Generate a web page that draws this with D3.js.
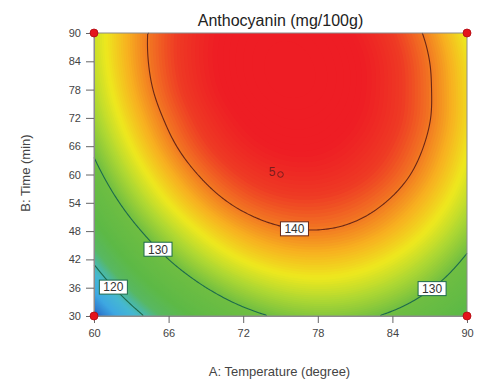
<!DOCTYPE html>
<html>
<head>
<meta charset="utf-8">
<script src="https://cdn.jsdelivr.net/npm/d3@7"></script>
<style>
  body { margin: 0; background: #fff; }
  svg { display: block; font-family: Arial, "Liberation Sans", sans-serif; }
</style>
</head>
<body>
<div id="chart"></div>
<script>
// DATA
// A: temperature (columns), B: time (rows)
const temperature = [60, 66, 72, 78, 84, 90];
const time = [30, 36, 42, 48, 54, 60, 66, 72, 78, 84, 90];
// predicted anthocyanin (mg/100g), one row per time, one column per temperature
const anthocyanin = [
  [113.1, 122.8, 128.8, 131.0, 129.4, 123.9],
  [117.1, 126.6, 132.4, 134.4, 132.6, 127.0],
  [120.6, 130.0, 135.6, 137.3, 135.3, 129.5],
  [123.8, 132.9, 138.3, 139.9, 137.7, 131.7],
  [126.5, 135.5, 140.7, 142.0, 139.6, 133.5],
  [128.8, 137.6, 142.6, 143.8, 141.2, 134.8],
  [130.7, 139.3, 144.1, 145.1, 142.3, 135.7],
  [132.2, 140.5, 145.1, 145.9, 143.0, 136.2],
  [133.2, 141.4, 145.8, 146.4, 143.2, 136.2],
  [133.8, 141.8, 146.0, 146.4, 143.1, 135.9],
  [134.0, 141.8, 145.8, 146.0, 142.5, 135.1]
];
const contourLevels = [120, 130, 140];
// where each contour label sits: [level, temperature, time]
const contourLabels = [[140, 76.2, 49.9], [130, 65.4, 44.8], [120, 61.9, 36.8], [130, 86.9, 36.8]];
const designPoints = [[60, 30], [60, 90], [90, 30], [90, 90]];
const centerPoint = [75, 60];
const centerRuns = 5;
const xTicks = [60, 66, 72, 78, 84, 90];
const yTicks = [30, 36, 42, 48, 54, 60, 66, 72, 78, 84, 90];

// colour ramp (value -> colour)
const rampValues = [113, 114.5, 116.5, 119, 120.5, 122, 125, 130, 133, 135.5, 138, 140, 142.5, 145];
const rampColors = ["#1f4aa6", "#2f7fd0", "#3ea8e2", "#45b8d2", "#4cb8a0", "#58b862", "#5db946", "#6fbe42",
  "#b0d832", "#eee81e", "#f7b020", "#f27a22", "#ee3a24", "#ee1d24"];

// MARGIN CONVENTIONS
const margin = { top: 33, right: 33, bottom: 74, left: 94 };
const outerWidth = 500, outerHeight = 390;
const width = outerWidth - margin.left - margin.right;
const height = outerHeight - margin.top - margin.bottom;

const svg = d3.select("#chart").append("svg")
  .attr("width", outerWidth)
  .attr("height", outerHeight);
const g = svg.append("g")
  .attr("transform", `translate(${margin.left}, ${margin.top})`);

// scales
const x = d3.scaleLinear().domain([60, 90]).range([0, width]);
const y = d3.scaleLinear().domain([30, 90]).range([height, 0]);
const color = d3.scaleLinear().domain(rampValues).range(rampColors).clamp(true);

// smooth surface through the table (Catmull-Rom, quadratic extension at the edges)
const nc = temperature.length, nr = time.length;
function val(r, c) {
  if (r < 0) return 3 * val(0, c) - 3 * val(1, c) + val(2, c);
  if (r >= nr) return 3 * val(nr - 1, c) - 3 * val(nr - 2, c) + val(nr - 3, c);
  if (c < 0) return 3 * val(r, 0) - 3 * val(r, 1) + val(r, 2);
  if (c >= nc) return 3 * val(r, nc - 1) - 3 * val(r, nc - 2) + val(r, nc - 3);
  return anthocyanin[r][c];
}
function cr(p0, p1, p2, p3, t) {
  return p1 + 0.5 * t * (p2 - p0 + t * (2 * p0 - 5 * p1 + 4 * p2 - p3 + t * (3 * (p1 - p2) + p3 - p0)));
}
function surface(T, t) {
  const u = (T - temperature[0]) / (temperature[1] - temperature[0]);
  const v = (t - time[0]) / (time[1] - time[0]);
  const i = Math.max(0, Math.min(nc - 2, Math.floor(u)));
  const j = Math.max(0, Math.min(nr - 2, Math.floor(v)));
  const rows = [-1, 0, 1, 2].map(dj =>
    cr(val(j + dj, i - 1), val(j + dj, i), val(j + dj, i + 1), val(j + dj, i + 2), u - i));
  return cr(rows[0], rows[1], rows[2], rows[3], v - j);
}

// sample on a 2px raster for d3.contours
const gx = Math.ceil(width / 2), gy = Math.ceil(height / 2);
const values = new Array(gx * gy);
for (let j = 0; j < gy; j++) {
  for (let i = 0; i < gx; i++) {
    values[j * gx + i] = surface(x.invert((i + 0.5) * width / gx), y.invert((j + 0.5) * height / gy));
  }
}
const toPx = p => [p[0] * width / gx, p[1] * height / gy];
const path = d3.geoPath(d3.geoTransform({
  point(px, py) { const q = toPx([px, py]); this.stream.point(q[0], q[1]); }
}));

// filled gradient
const fillThresholds = d3.range(108, 148, 0.25);
const bands = d3.contours().size([gx, gy]).thresholds(fillThresholds)(values);
g.append("g")
  .selectAll("path")
  .data(bands)
  .join("path")
  .attr("d", path)
  .attr("fill", d => color(d.value + 0.125));

// contour lines (without the parts lying on the plot border)
const lineColor = v => v >= 140 ? "#6a2716" : "#1d6a4c";
function openSegments(ring) {
  const onEdge = p => p[0] <= 0 || p[0] >= gx || p[1] <= 0 || p[1] >= gy;
  const segs = [];
  let cur = [];
  for (let k = 0; k < ring.length - 1; k++) {
    const a = ring[k], b = ring[k + 1];
    if (onEdge(a) && onEdge(b)) {
      if (cur.length > 1) segs.push(cur);
      cur = [];
      continue;
    }
    if (!cur.length) cur.push(a);
    cur.push(b);
  }
  if (cur.length > 1) segs.push(cur);
  if (segs.length > 1) {
    const first = segs[0], last = segs[segs.length - 1];
    const end = last[last.length - 1];
    if (first[0][0] === end[0] && first[0][1] === end[1]) {
      segs[0] = last.concat(first.slice(1));
      segs.pop();
    }
  }
  return segs.map(s => s.map(toPx));
}
const levelLines = d3.contours().size([gx, gy]).thresholds(contourLevels)(values)
  .map(c => ({ value: c.value, segs: c.coordinates.flatMap(poly => poly.flatMap(openSegments)) }));

const line = d3.line();
const linesG = g.append("g").attr("fill", "none").attr("stroke-width", 1.1);
levelLines.forEach(l => {
  linesG.selectAll(null)
    .data(l.segs)
    .join("path")
    .attr("d", line)
    .attr("stroke", lineColor(l.value));
});

// contour labels, snapped onto their line
const labelG = g.append("g");
contourLabels.forEach(([lev, T, t]) => {
  const l = levelLines.find(d => d.value === lev);
  const target = [x(T), y(t)];
  let best = null, bestD = Infinity;
  l.segs.forEach(s => s.forEach(p => {
    const dd = (p[0] - target[0]) ** 2 + (p[1] - target[1]) ** 2;
    if (dd < bestD) { bestD = dd; best = p; }
  }));
  const lg = labelG.append("g").attr("transform", `translate(${best[0]}, ${best[1]})`);
  lg.append("rect")
    .attr("x", -14).attr("y", -7)
    .attr("width", 28).attr("height", 14)
    .attr("fill", "#fff")
    .attr("stroke", lineColor(lev))
    .attr("stroke-width", 1);
  lg.append("text")
    .attr("text-anchor", "middle")
    .attr("dy", "0.36em")
    .attr("font-size", 12)
    .attr("fill", "#333")
    .text(lev);
});

// plot frame
g.append("rect")
  .attr("width", width).attr("height", height)
  .attr("fill", "none")
  .attr("stroke", "#8c8c8c")
  .attr("stroke-width", 1);

// axes
const xAxis = g.append("g")
  .attr("transform", `translate(0, ${height})`)
  .call(d3.axisBottom(x).tickValues(xTicks).tickSize(7).tickSizeOuter(0).tickPadding(6));
const yAxis = g.append("g")
  .call(d3.axisLeft(y).tickValues(yTicks).tickSize(8).tickSizeOuter(0).tickPadding(5));
[xAxis, yAxis].forEach(a => {
  a.select(".domain").attr("stroke", "#8c8c8c");
  a.selectAll(".tick line").attr("stroke", "#666");
  a.selectAll(".tick text").attr("fill", "#444").attr("font-size", 11)
    .attr("font-family", "Arial, 'Liberation Sans', sans-serif");
});

// design points
g.append("g")
  .selectAll("circle")
  .data(designPoints)
  .join("circle")
  .attr("cx", d => x(d[0]))
  .attr("cy", d => y(d[1]))
  .attr("r", 4)
  .attr("fill", "#e4141c")
  .attr("stroke", "#b00a10")
  .attr("stroke-width", 0.8);

// centre point with replicate count
g.append("circle")
  .attr("cx", x(centerPoint[0]))
  .attr("cy", y(centerPoint[1]))
  .attr("r", 2.8)
  .attr("fill", "none")
  .attr("stroke", "#7a1c1c")
  .attr("stroke-width", 1);
g.append("text")
  .attr("x", x(centerPoint[0]) - 5)
  .attr("y", y(centerPoint[1]) + 1)
  .attr("text-anchor", "end")
  .attr("font-size", 12)
  .attr("fill", "#7a1c1c")
  .text(centerRuns);

// labels
svg.append("text")
  .attr("x", margin.left + width / 2)
  .attr("y", 26)
  .attr("text-anchor", "middle")
  .attr("font-size", 16)
  .attr("fill", "#222")
  .text("Anthocyanin (mg/100g)");

svg.append("text")
  .attr("x", margin.left + width / 2 - 1)
  .attr("y", 376)
  .attr("text-anchor", "middle")
  .attr("font-size", 13)
  .attr("fill", "#444")
  .text("A: Temperature (degree)");

svg.append("text")
  .attr("transform", "rotate(-90)")
  .attr("x", -173)
  .attr("y", 30)
  .attr("text-anchor", "middle")
  .attr("font-size", 13)
  .attr("fill", "#444")
  .text("B: Time (min)");
</script>
</body>
</html>
